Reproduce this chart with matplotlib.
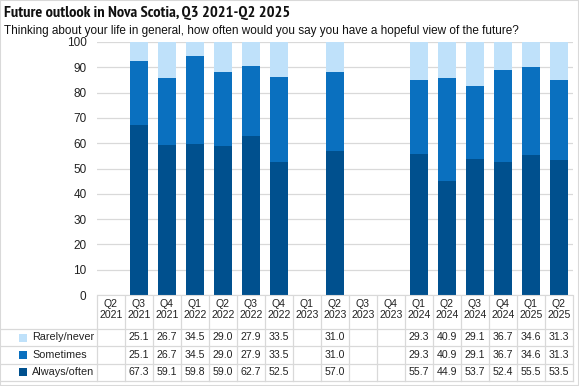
#!/usr/bin/env python3
"""Future outlook in Nova Scotia, stacked bars with a data table."""

import matplotlib

matplotlib.use("Agg")
import matplotlib.pyplot as plt
import numpy as np
from matplotlib import font_manager
from matplotlib.transforms import blended_transform_factory

quarters = ["Q2\n2021", "Q3\n2021", "Q4\n2021", "Q1\n2022", "Q2\n2022", "Q3\n2022",
            "Q4\n2022", "Q1\n2023", "Q2\n2023", "Q3\n2023", "Q4\n2023", "Q1\n2024",
            "Q2\n2024", "Q3\n2024", "Q4\n2024", "Q1\n2025", "Q2\n2025"]
always_often = [None, 67.3, 59.1, 59.8, 59.0, 62.7, 52.5, None, 57.0, None, None,
                55.7, 44.9, 53.7, 52.4, 55.5, 53.5]
sometimes = [None, 25.1, 26.7, 34.5, 29.0, 27.9, 33.5, None, 31.0, None, None,
             29.3, 40.9, 29.1, 36.7, 34.6, 31.3]
rarely_never = [None, 25.1, 26.7, 34.5, 29.0, 27.9, 33.5, None, 31.0, None, None,
                29.3, 40.9, 29.1, 36.7, 34.6, 31.3]

series = [
    ("Rarely/never", rarely_never, "#bfe1fa"),
    ("Sometimes", sometimes, "#0a70bf"),
    ("Always/often", always_often, "#00508e"),
]

W, H = 579, 386
fig = plt.figure(figsize=(W / 100, H / 100), dpi=100)
font = "Liberation Sans"

# bold narrow face for the title if one is installed
bold_narrow = sorted(
    f.fname for f in font_manager.fontManager.ttflist
    if "Narrow" in f.fname and "Bold" in f.fname and "Italic" not in f.fname
)
if bold_narrow:
    title_props = font_manager.FontProperties(fname=bold_narrow[0], size=11.8)
else:
    title_props = font_manager.FontProperties(family="Roboto", weight="bold",
                                              size=10.5)

ax = fig.add_axes([97 / W, 1 - 295 / H, (573 - 97) / W, (295 - 42) / H])

x = np.arange(len(quarters))
a = np.array([np.nan if v is None else v for v in always_often])
s = np.array([np.nan if v is None else v for v in sometimes])
r = np.array([np.nan if v is None else v for v in rarely_never])
ax.bar(x, a, width=0.67, color="#00508e", zorder=2)
ax.bar(x, s, width=0.67, bottom=a, color="#0a70bf", zorder=2)
ax.bar(x, r, width=0.67, bottom=a + s, color="#bfe1fa", zorder=2)

ax.set_xlim(-0.5, len(quarters) - 0.5)
ax.set_ylim(0, 100)
ax.set_yticks(range(0, 101, 10))
ax.yaxis.grid(True, color="#d9d9d9", linewidth=0.9, zorder=0)
ax.set_xticks([])
ax.tick_params(axis="y", length=0, pad=7.5, labelsize=8.5, labelcolor="#222222")
for label in ax.get_yticklabels():
    label.set_fontfamily(font)
for side in ["top", "right", "left"]:
    ax.spines[side].set_visible(False)
ax.spines["bottom"].set_color("#d9d9d9")

# data table below the chart
tr = blended_transform_factory(ax.transData, fig.transFigure)
line_color = "#d9d9d9"


def fy(py):
    return 1 - py / H


for i, q in enumerate(quarters):
    fig.text(i, fy(309.5), q, transform=tr, ha="center", va="center",
             fontsize=7.6, family=font, color="#222222", linespacing=1.1)

row_y = [337.5, 354.5, 372]
for (name, vals, color), py in zip(series, row_y):
    fig.add_artist(plt.Rectangle((19 / W, fy(py + 4)), 8 / W, 8 / H,
                                 transform=fig.transFigure, color=color,
                                 linewidth=0))
    fig.text(32 / W, fy(py), name, ha="left", va="center", fontsize=7.8,
             family=font, color="#222222")
    for i, v in enumerate(vals):
        if v is not None:
            fig.text(i, fy(py), f"{v:.1f}", transform=tr, ha="center",
                     va="center", fontsize=7.6, family=font, color="#222222")

for py in [328.5, 346, 363.5, 381]:
    fig.add_artist(plt.Line2D([0, 573 / W], [fy(py), fy(py)],
                              color=line_color, linewidth=0.9))
for i in range(len(quarters) + 1):
    fig.add_artist(plt.Line2D([i - 0.5, i - 0.5], [fy(296), fy(381)],
                              transform=tr, color=line_color, linewidth=0.9))

fig.text(4 / W, fy(13), "Future outlook in Nova Scotia, Q3 2021-Q2 2025",
         ha="left", va="center", fontproperties=title_props, color="#111111")
fig.text(4 / W, fy(31), "Thinking about your life in general, how often would "
         "you say you have a hopeful view of the future?", ha="left",
         va="center", fontsize=8.5, family=font, color="#111111")

fig.add_artist(plt.Rectangle((0, 0), 1, 1, transform=fig.transFigure,
                             fill=False, edgecolor="#d9d9d9", linewidth=1.5))

fig.savefig("out.png", dpi=100)
